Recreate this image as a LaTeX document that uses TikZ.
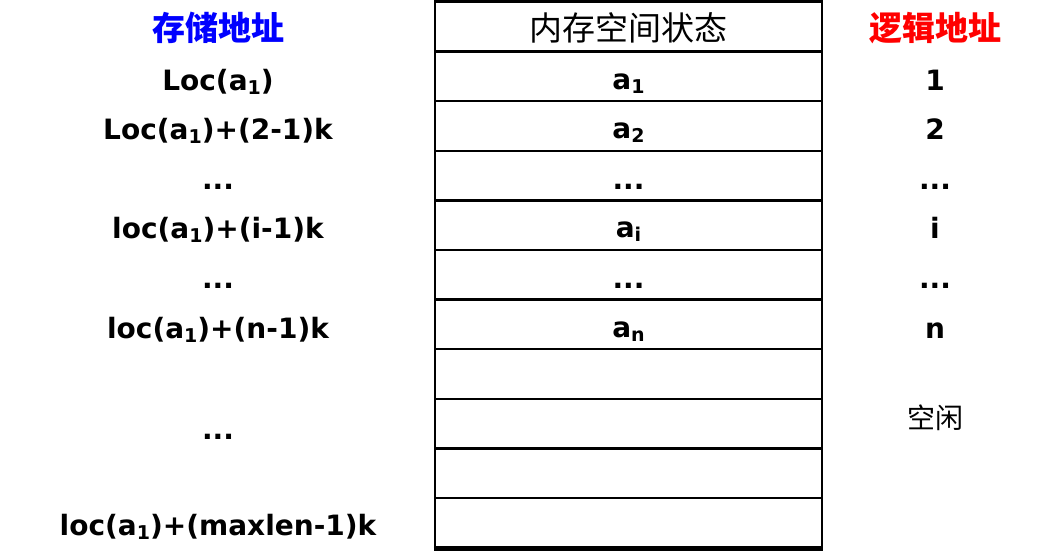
\documentclass[tikz,border=0pt]{standalone}
\usepackage{fontspec}
\setmainfont{DejaVu Sans}
\newfontfamily\cjk{Noto Sans CJK SC}
\newcommand{\subs}[1]{\raisebox{-4pt}{\fontsize{19}{21}\selectfont #1}}
\begin{document}
\begin{tikzpicture}[x=1pt,y=-1pt,
  lbl/.style={font=\fontsize{28}{32}\selectfont\bfseries, anchor=base, inner sep=0pt},
  hdr/.style={font=\fontsize{33}{36}\selectfont\cjk, inner sep=0pt},
  cell/.style={draw, line width=2.5pt, minimum width=387pt, minimum height=49.6pt, inner sep=0pt}]
\useasboundingbox (0,0) rectangle (1049,551);
% table cells
\foreach \k in {0,...,10} {
  \node[cell] (c\k) at (628.5, {2+49.6*(\k+0.5)}) {};
}
\draw[line width=3.5pt] (c0.north west) -- (c0.north east);
\draw[line width=3.5pt] (c10.south west) -- (c10.south east);
% headers
\node[hdr, text=blue, font=\fontsize{33}{36}\selectfont\cjk\bfseries] (h1) at (218,28) {存储地址};
\node[hdr] (h2) at (628.5,28) {内存空间状态};
\node[hdr, text=red, font=\fontsize{33}{36}\selectfont\cjk\bfseries] (h3) at (935,28) {逻辑地址};
% left column
\node[lbl] (l1) at (218,90) {Loc(a\subs{1})};
\node[lbl] (l2) at (218,139.6) {Loc(a\subs{1})+(2-1)k};
\node[lbl] (l3) at (218,189.2) {...};
\node[lbl] (l4) at (218,238.8) {loc(a\subs{1})+(i-1)k};
\node[lbl] (l5) at (218,288.4) {...};
\node[lbl] (l6) at (218,338) {loc(a\subs{1})+(n-1)k};
\node[lbl] (l7) at (218,439) {...};
\node[lbl] (l8) at (218,535) {loc(a\subs{1})+(maxlen-1)k};
% table content
\node[lbl] (t1) at (628.5,89) {a\subs{1}};
\node[lbl] (t2) at (628.5,138.6) {a\subs{2}};
\node[lbl] (t3) at (628.5,189.2) {...};
\node[lbl] (t4) at (628.5,237.8) {a\subs{i}};
\node[lbl] (t5) at (628.5,288.4) {...};
\node[lbl] (t6) at (628.5,337) {a\subs{n}};
% right column
\node[lbl] (r1) at (935,90) {1};
\node[lbl] (r2) at (935,139.6) {2};
\node[lbl] (r3) at (935,189.2) {...};
\node[lbl] (r4) at (935,238.8) {i};
\node[lbl] (r5) at (935,288.4) {...};
\node[lbl] (r6) at (935,338) {n};
\node[hdr, font=\fontsize{28}{32}\selectfont\cjk] (r7) at (935,418) {空闲};
\end{tikzpicture}
\end{document}
